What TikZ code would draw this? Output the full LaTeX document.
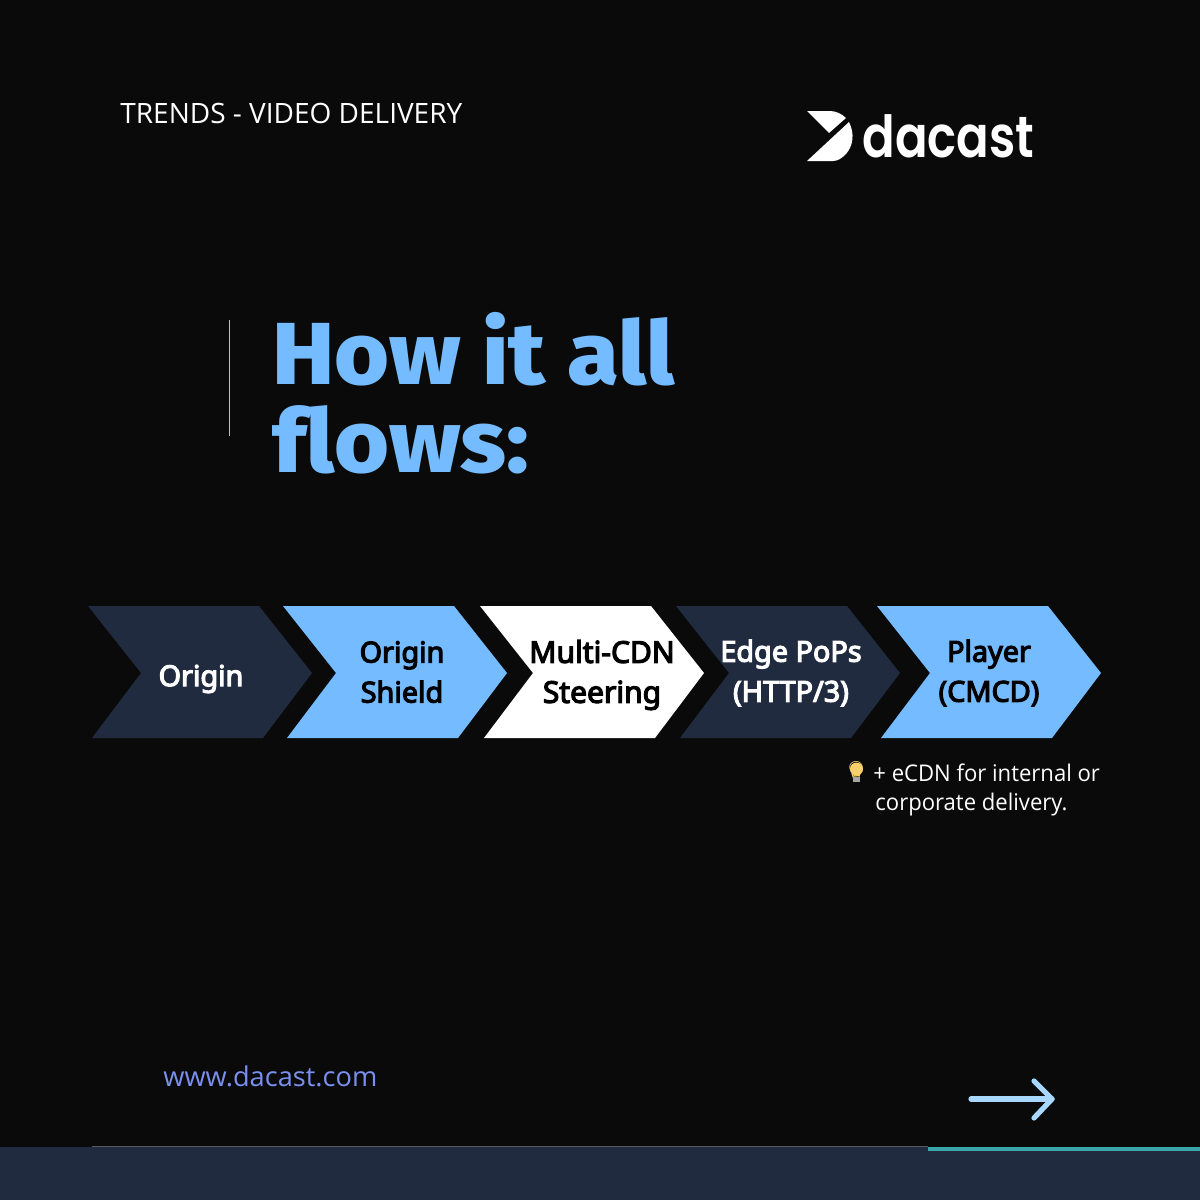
\documentclass[tikz,border=0pt]{standalone}
\usepackage{fontspec}
\usepackage{xcolor}
\setmainfont{Noto Sans}
\newfontfamily\stepfont[FakeBold=4]{Noto Sans}
\newfontfamily\titlefont[FakeStretch=1.07,Ligatures=NoCommon]{Fira Sans ExtraBold}
\newfontfamily\logofont[FakeStretch=0.83]{Poppins SemiBold}
\newfontfamily\bodyfont{Open Sans}
\newfontfamily\notefont[FakeStretch=0.96]{Open Sans}
\newfontfamily\emojifont{Noto Emoji}
\definecolor{bgblack}{HTML}{0A0A0A}
\definecolor{navy}{HTML}{212B40}
\definecolor{skyblue}{HTML}{74BCFF}
\definecolor{paleblue}{HTML}{A8D8FF}
\definecolor{linkblue}{HTML}{7B8FF0}
\definecolor{teal}{HTML}{3AA6A8}
\definecolor{bulb}{HTML}{F7CF6B}
\tikzset{
	step label/.style={font=\stepfont\fontsize{14.4}{20}\selectfont,align=center,inner sep=0pt},
	body label/.style={font=\notefont\fontsize{11.5}{14.5}\selectfont,text=white,inner sep=0pt},
	title label/.style={font=\titlefont\fontsize{44}{44}\selectfont,text=skyblue,anchor=base west,inner sep=0pt}
}
\begin{document}
\begin{tikzpicture}[x=0.5pt,y=-0.5pt]
	\useasboundingbox (0,0) rectangle (1200,1200);
	\fill[bgblack] (0,0) rectangle (1200,1200);
	\fill[navy] (0,1147) rectangle (1200,1200);
	\coordinate (ruleleft) at (92,1146.5);
	\coordinate (rulemid) at (928,1146.5);
	\coordinate (tealleft) at (928,1149);
	\coordinate (tealright) at (1200,1149);
	\draw[gray!70!black,line width=0.5pt] (ruleleft)--(rulemid);
	\draw[teal,line width=2pt] (tealleft)--(tealright);
	% chevrons
	\foreach \x/\col in {88/navy,283/skyblue,480/white,676/navy,877/skyblue}
		\fill[\col] (\x,606)--(\x+171,606)--(\x+224,673)--(\x+175,738)--(\x+4,738)--(\x+53,673)--cycle;
	\node[step label,text=white] at (201,679) (origin) {Origin};
	\node[step label,text=black] at (402,672) (shield) {Origin\\Shield};
	\node[step label,font=\stepfont\fontsize{15}{20}\selectfont,text=black] at (602,675) (steering) {Multi-CDN\\Steering};
	\node[step label,text=white] at (791,673) (edge) {Edge PoPs\\(HTTP/3)};
	\node[step label,text=black] at (989,673) (player) {Player\\(CMCD)};
	% header
	\node[font=\bodyfont\fontsize{14}{16}\selectfont,text=white,inner sep=0pt,anchor=west] at (120,113) (trends) {TRENDS - VIDEO DELIVERY};
	\fill[white] (807,111)--(830,111) .. controls (836,111) and (842,114) .. (846,118)--(829,133)--cycle;
	\fill[white] (849,122) .. controls (855,134) and (853,146) .. (846,154) .. controls (842,158) and (838,161) .. (833,161)--(807,161)--cycle;
	\node[font=\logofont\fontsize{29}{32}\selectfont,text=white,anchor=base west,inner sep=0pt] at (862,157) (logo) {dacast};
	% title
	\coordinate (bartop) at (229,320);
	\coordinate (barbottom) at (229,436);
	\draw[white!75!black,line width=0.5pt] (bartop)--(barbottom);
	\node[title label] at (272,384) (howit) {How it all};
	\node[title label] at (272,472) (flows) {flows:};
	% note
	\fill[bulb] (856.5,769) circle (6.5);
	\node[font=\emojifont\fontsize{10}{10}\selectfont,text=bulb,inner sep=0pt] at (856,772) (lamp) {💡};
	\fill[gray!70!white] (853,776.5) rectangle (860,781.5);
	\node[body label,anchor=base west] at (873,781) (note1) {+ eCDN for internal or};
	\node[body label,anchor=base west] at (875,810) (note2) {corporate delivery.};
	% footer
	\node[font=\bodyfont\fontsize{13.6}{16}\selectfont,text=linkblue,anchor=base west,inner sep=0pt] at (163,1086) (url) {www.dacast.com};
	\coordinate (arrowtail) at (971,1099);
	\coordinate (arrowtip) at (1052,1099);
	\coordinate (headtop) at (1034,1081);
	\coordinate (headbottom) at (1034,1118);
	\draw[paleblue,line width=2.6pt,line cap=round,line join=round] (arrowtail)--(arrowtip);
	\draw[paleblue,line width=2.6pt,line cap=round,line join=round] (headtop)--(arrowtip)--(headbottom);
\end{tikzpicture}
\end{document}
